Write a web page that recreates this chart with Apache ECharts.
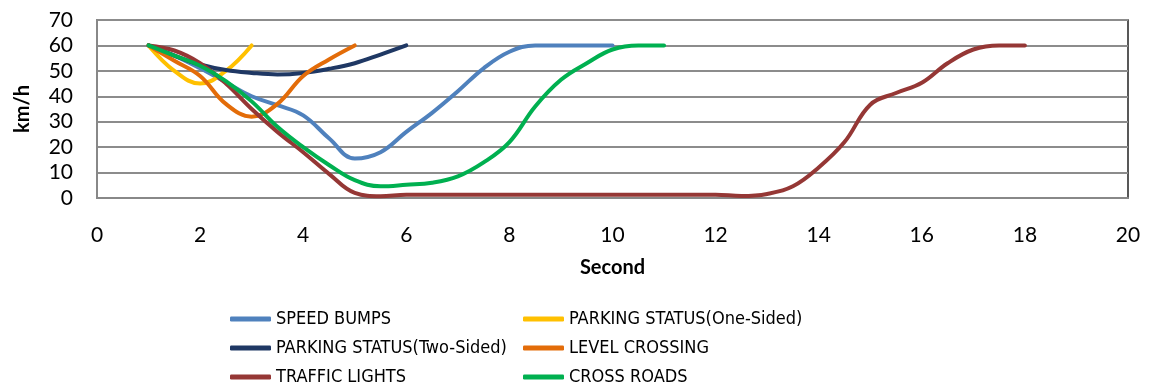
<!DOCTYPE html>
<html>
<head>
<meta charset="utf-8">
<script src="https://cdn.jsdelivr.net/npm/echarts@6/dist/echarts.min.js"></script>
<style>
  html, body { margin: 0; padding: 0; background: #fff; }
  #chart { width: 1154px; height: 389px; }
</style>
</head>
<body>
<div id="chart"></div>
<script>
// Speed profiles (km/h) over time (s) for each road situation
const seriesNames = [
  'SPEED BUMPS',
  'PARKING STATUS(One-Sided)',
  'PARKING STATUS(Two-Sided)',
  'LEVEL CROSSING',
  'TRAFFIC LIGHTS',
  'CROSS ROADS'
];

const speedBumpsT = [1, 1.5, 2, 2.5, 3, 3.5, 4, 4.5, 5, 5.5, 6, 6.5, 7, 7.5, 8, 8.5, 9, 9.5, 10];
const speedBumpsV = [60, 56, 51, 45.5, 40, 36.5, 32.5, 23.5, 15.5, 18, 26, 33.5, 42, 51, 57.5, 60, 60, 60, 60];

const oneSidedT = [1, 1.5, 2, 2.5, 3];
const oneSidedV = [60, 50, 45, 50, 60];

const twoSidedT = [1, 1.5, 2, 2.5, 3, 3.5, 4, 4.5, 5, 5.5, 6];
const twoSidedV = [60, 56, 52.5, 50.3, 49.2, 48.6, 49.2, 50.8, 53, 56.4, 60];

const levelCrossingT = [1, 1.5, 2, 2.5, 3, 3.5, 4, 4.5, 5];
const levelCrossingV = [60, 54, 48, 37, 32, 37, 48, 54.5, 60];

const trafficLightsT = [1, 1.5, 2, 2.5, 3, 3.5, 4, 4.5, 5, 5.5, 6, 7, 8, 9, 10, 11, 12, 12.5, 13, 13.5, 14, 14.5, 15, 15.5, 16, 16.5, 17, 17.5, 18];
const trafficLightsV = [60, 58, 53, 45, 35, 26, 18, 9.5, 2, 0.7, 1.3, 1.3, 1.3, 1.3, 1.3, 1.3, 1.3, 0.8, 1.6, 4.6, 12, 22, 36.7, 41.3, 45.3, 53, 58.4, 60, 60];

const crossRoadsT = [1, 1.5, 2, 2.5, 3, 3.5, 4, 4.5, 5, 5.5, 6, 6.5, 7, 7.5, 8, 8.5, 9, 9.5, 10, 10.5, 11];
const crossRoadsV = [60, 56, 52, 46, 38, 28, 20, 13, 7, 4.6, 5.2, 6, 8.5, 14, 22, 36, 46.5, 53, 58.4, 60, 60];

const colors = ['#4F81BD', '#FFC000', '#1F3864', '#E36C09', '#953735', '#00B050'];
const xTicks = { min: 0, max: 20, step: 2 };
const yTicks = { min: 0, max: 70, step: 10 };

function pairs(t, v) { return t.map((x, i) => [x, v[i]]); }
const seriesData = [
  pairs(speedBumpsT, speedBumpsV),
  pairs(oneSidedT, oneSidedV),
  pairs(twoSidedT, twoSidedV),
  pairs(levelCrossingT, levelCrossingV),
  pairs(trafficLightsT, trafficLightsV),
  pairs(crossRoadsT, crossRoadsV)
];

const FONT = 'Lato, "Open Sans", sans-serif';
const legendText = {
  fontFamily: '"DejaVu Sans Condensed", "Liberation Sans Narrow", sans-serif',
  fontSize: 18, color: '#000', lineHeight: 20
};
const legendBase = {
  orient: 'vertical', top: 309, padding: 0,
  itemWidth: 41, itemHeight: 5, itemGap: 9, icon: 'roundRect',
  textStyle: legendText
};

const chart = echarts.init(document.getElementById('chart'), null, { renderer: 'canvas' });
chart.setOption({
  animation: false,
  color: colors,
  grid: {
    left: 97, right: 26, top: 20, bottom: 191,
    show: true, borderColor: '#222', borderWidth: 1.5
  },
  legend: [
    Object.assign({}, legendBase, { left: 230, data: [seriesNames[0], seriesNames[2], seriesNames[4]] }),
    Object.assign({}, legendBase, { left: 523, data: [seriesNames[1], seriesNames[3], seriesNames[5]] })
  ],
  xAxis: {
    type: 'value', min: xTicks.min, max: xTicks.max, interval: xTicks.step,
    name: 'Second', nameLocation: 'middle', nameGap: 60,
    nameTextStyle: { fontFamily: FONT, fontSize: 20, fontWeight: 'bold', color: '#000' },
    axisLine: { show: true, lineStyle: { color: '#888', width: 2 } },
    axisTick: { show: false },
    axisLabel: { fontFamily: FONT, fontSize: 21, color: '#000', margin: 27 },
    splitLine: { show: false }
  },
  yAxis: {
    type: 'value', min: yTicks.min, max: yTicks.max, interval: yTicks.step,
    name: 'km/h', nameLocation: 'middle', nameGap: 64, nameRotate: 90,
    nameTextStyle: { fontFamily: FONT, fontSize: 20, fontWeight: 'bold', color: '#000' },
    axisLine: { show: true, lineStyle: { color: '#888', width: 2 } },
    axisTick: { show: false },
    axisLabel: { fontFamily: FONT, fontSize: 21, color: '#000', margin: 24 },
    splitLine: { show: true, lineStyle: { color: '#8c8c8c', width: 2 } }
  },
  series: seriesNames.map((name, i) => ({
    name: name,
    type: 'line',
    data: seriesData[i],
    smooth: 0.4,
    showSymbol: false,
    symbol: 'none',
    lineStyle: { width: 4, color: colors[i], cap: 'round', join: 'round' },
    itemStyle: { color: colors[i] },
    z: 2 + i
  }))
});
</script>
</body>
</html>
